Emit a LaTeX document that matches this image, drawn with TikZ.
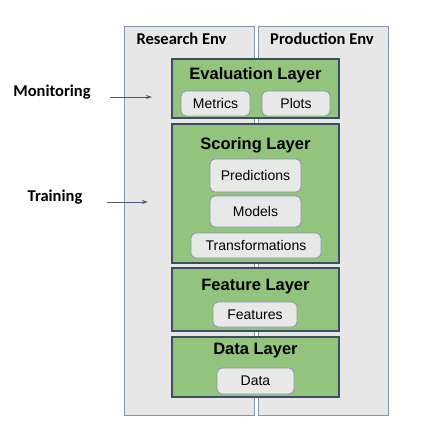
\documentclass[tikz,border=0pt]{standalone}
\usepackage{fontspec}
\setmainfont{Liberation Sans}
\newfontfamily\califont{Carlito}
\usetikzlibrary{arrows.meta}
\definecolor{envfill}{HTML}{E7E7E7}
\definecolor{envline}{HTML}{8496AD}
\definecolor{layfill}{HTML}{93C47D}
\definecolor{layline}{HTML}{3E4E62}
\definecolor{itemfill}{HTML}{E8E8E8}
\definecolor{arrcol}{HTML}{4A5B72}

\tikzset{
  env/.style={draw=envline,fill=envfill,line width=0.8pt,minimum width=130pt,minimum height=389pt,inner sep=0pt},
  layer/.style={draw=layline,fill=layfill,line width=1.5pt,minimum width=167pt,inner sep=0pt},
  item/.style={draw=envline,fill=itemfill,rounded corners=5pt,line width=0.8pt,inner sep=0pt,font=\fontsize{14}{16}\selectfont},
  laytitle/.style={font=\fontsize{16.5}{18}\selectfont\bfseries},
  side/.style={font=\califont\fontsize{16.5}{18}\selectfont\bfseries}
}

\begin{document}
\begin{tikzpicture}[x=1pt,y=-1pt,>={Stealth[length=6pt,width=4pt]}]
\useasboundingbox (0,0) rectangle (425,432);

% environments
\node (res) at (189,220.5) [env] {};
\node (prod) at (323,220.5) [env] {};
\node (restitle) at (133,39) [side,anchor=west] {Research Env};
\node (prodtitle) at (322,39) [side] {Production Env};

% layers
\node (eval) at (255.5,88.5) [layer,minimum height=59pt] {};
\node (score) at (255.5,193.5) [layer,minimum height=139pt] {};
\node (feat) at (255.5,299.5) [layer,minimum height=63pt] {};
\node (data) at (255.5,367) [layer,minimum height=60pt] {};

\node (evaltitle) at (255.5,75) [laytitle] {Evaluation Layer};
\node (scoretitle) at (255.5,145) [laytitle] {Scoring Layer};
\node (feattitle) at (255.5,287) [laytitle] {Feature Layer};
\node (datatitle) at (255.5,351) [laytitle] {Data Layer};

% items
\node (metrics) at (215.5,103.5) [item,minimum width=69pt,minimum height=25pt] {Metrics};
\node (plots) at (296,103.5) [item,minimum width=68pt,minimum height=25pt] {Plots};
\node (pred) at (255.5,175.5) [item,minimum width=91pt,minimum height=33pt] {Predictions};
\node (models) at (255.5,211.5) [item,minimum width=91pt,minimum height=31pt] {Models};
\node (trans) at (256,245.5) [item,minimum width=130pt,minimum height=25pt] {Transformations};
\node (features) at (255,314.5) [item,minimum width=84pt,minimum height=25pt] {Features};
\node (datait) at (255.5,381) [item,minimum width=77pt,minimum height=26pt] {Data};

% side labels
\node (mon) at (52,92) [side] {Monitoring};
\node (train) at (55,197) [side] {Training};
\coordinate (monend) at (152,97);
\coordinate (trainend) at (148,202);
\draw[->,arrcol,line width=0.8pt] (mon.east |- monend) ++(16,0) -- (monend);
\draw[->,arrcol,line width=0.8pt] (train.east |- trainend) ++(21,0) -- (trainend);

\end{tikzpicture}
\end{document}
